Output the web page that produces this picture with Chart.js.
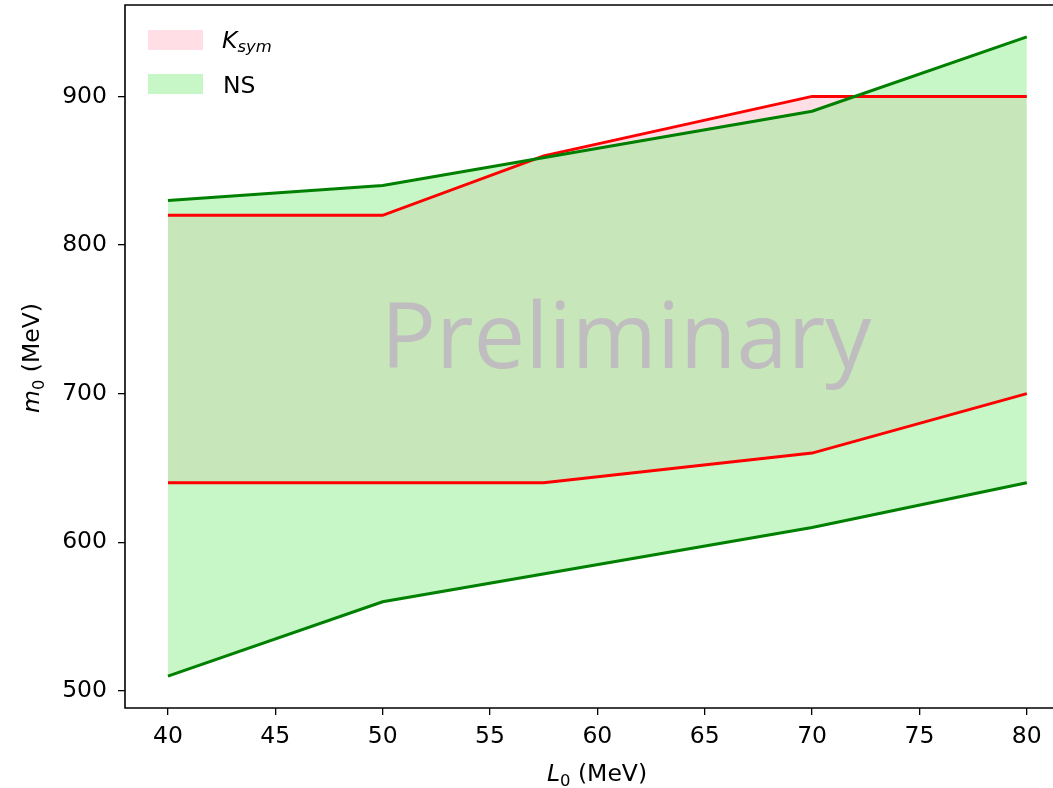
<!DOCTYPE html>
<html lang="en">
<head>
    <meta charset="UTF-8">
    <title>m0 vs L0 bands</title>
    <script src="https://cdn.jsdelivr.net/npm/chart.js"></script>
    <style>
        html, body { margin: 0; padding: 0; background: #ffffff; }
        #wrap { width: 1053px; height: 788px; }
    </style>
</head>
<body>
    <div id="wrap"><canvas id="bandChart" width="1053" height="788"></canvas></div>

    <script>
        // L0 values (MeV) for each band edge
        const ksymL = [40, 50, 57.5, 70, 80];
        const ksymUpper = [820, 820, 860, 900, 900];
        const ksymLower = [640, 640, 640, 660, 700];

        const nsL = [40, 50, 70, 80];
        const nsUpper = [830, 840, 890, 940];
        const nsLower = [510, 560, 610, 640];

        const xTicks = [40, 45, 50, 55, 60, 65, 70, 75, 80];
        const yTicks = [500, 600, 700, 800, 900];

        const FONT = 'DejaVu Sans';
        const FS = 23.5;
        const pink = 'rgba(255, 192, 203, 0.5)';
        const lightGreen = 'rgba(144, 238, 144, 0.5)';

        function pts(xs, ys) {
            return xs.map((x, i) => ({ x: x, y: ys[i] }));
        }

        // writes "base_sub rest" with italic base and a subscript, centred on x
        function mathLabel(ctx, x, y, base, sub, rest, size) {
            const subSize = size * 0.7;
            ctx.font = 'italic ' + size + 'px "' + FONT + '"';
            const w1 = ctx.measureText(base).width;
            ctx.font = subSize + 'px "' + FONT + '"';
            const w2 = ctx.measureText(sub).width;
            ctx.font = size + 'px "' + FONT + '"';
            const w3 = ctx.measureText(rest).width;
            let cx = x - (w1 + w2 + w3) / 2;
            ctx.textAlign = 'left';
            ctx.textBaseline = 'alphabetic';
            ctx.font = 'italic ' + size + 'px "' + FONT + '"';
            ctx.fillText(base, cx, y);
            cx += w1;
            ctx.font = subSize + 'px "' + FONT + '"';
            ctx.fillText(sub, cx, y + size * 0.2);
            cx += w2;
            ctx.font = size + 'px "' + FONT + '"';
            ctx.fillText(rest, cx, y);
        }

        const decorations = {
            id: 'decorations',
            beforeDatasetsDraw(chart) {
                const { ctx } = chart;
                // watermark sits under the fills and lines
                ctx.save();
                ctx.fillStyle = 'rgb(191, 189, 191)';
                ctx.font = '92px "Open Sans"';
                ctx.textAlign = 'center';
                ctx.textBaseline = 'alphabetic';
                ctx.fillText('Preliminary', 626, 368);
                ctx.restore();
            },
            afterDraw(chart) {
                const { ctx, chartArea } = chart;
                ctx.save();
                // spines: left, bottom, top (right one is off the image)
                ctx.strokeStyle = '#000000';
                ctx.lineWidth = 1.6;
                ctx.beginPath();
                ctx.moveTo(chartArea.right + 2, chartArea.top);
                ctx.lineTo(chartArea.left, chartArea.top);
                ctx.lineTo(chartArea.left, chartArea.bottom);
                ctx.lineTo(chartArea.right + 2, chartArea.bottom);
                ctx.stroke();

                // legend
                ctx.fillStyle = pink;
                ctx.fillRect(148, 30, 55, 20);
                ctx.fillStyle = lightGreen;
                ctx.fillRect(148, 74, 55, 20);
                ctx.fillStyle = '#000000';
                ctx.font = 'italic ' + FS + 'px "' + FONT + '"';
                ctx.textAlign = 'left';
                ctx.textBaseline = 'alphabetic';
                ctx.fillText('K', 222, 48);
                const kw = ctx.measureText('K').width;
                ctx.font = 'italic ' + (FS * 0.7) + 'px "' + FONT + '"';
                ctx.fillText('sym', 222 + kw, 52);
                ctx.font = FS + 'px "' + FONT + '"';
                ctx.fillText('NS', 223, 93);

                // axis titles
                mathLabel(ctx, 597, 781, 'L', '0', ' (MeV)', FS);
                ctx.translate(39, 358);
                ctx.rotate(-Math.PI / 2);
                mathLabel(ctx, 0, 0, 'm', '0', ' (MeV)', FS);
                ctx.restore();
            }
        };

        const lineBase = { showLine: true, pointRadius: 0, borderWidth: 3, tension: 0 };

        new Chart(document.getElementById('bandChart'), {
            type: 'scatter',
            data: {
                datasets: [
                    Object.assign({}, lineBase, {
                        label: 'Ksym upper', data: pts(ksymL, ksymUpper),
                        borderColor: 'red', backgroundColor: pink, fill: '+1', order: 4
                    }),
                    Object.assign({}, lineBase, {
                        label: 'Ksym lower', data: pts(ksymL, ksymLower),
                        borderColor: 'red', fill: false, order: 3
                    }),
                    Object.assign({}, lineBase, {
                        label: 'NS upper', data: pts(nsL, nsUpper),
                        borderColor: 'green', backgroundColor: lightGreen, fill: '+1', order: 2
                    }),
                    Object.assign({}, lineBase, {
                        label: 'NS lower', data: pts(nsL, nsLower),
                        borderColor: 'green', fill: false, order: 1
                    })
                ]
            },
            options: {
                responsive: false,
                animation: false,
                layout: { padding: { top: 5, right: 0, left: 0, bottom: 0 } },
                plugins: {
                    legend: { display: false },
                    tooltip: { enabled: false },
                    filler: { drawTime: 'beforeDatasetsDraw' }
                },
                scales: {
                    x: {
                        type: 'linear', min: 38, max: 81.22,
                        afterBuildTicks: s => { s.ticks = xTicks.map(v => ({ value: v })); },
                        afterFit: s => { s.height = 80; s.paddingLeft = 0; s.paddingRight = 0; },
                        grid: { display: true, drawOnChartArea: false, tickLength: 7, color: '#000', lineWidth: 1.3 },
                        border: { display: false },
                        ticks: { color: '#000', font: { family: FONT, size: FS }, padding: 8, maxRotation: 0, autoSkip: false }
                    },
                    y: {
                        type: 'linear', min: 488.5, max: 961.5,
                        afterBuildTicks: s => { s.ticks = yTicks.map(v => ({ value: v })); },
                        afterFit: s => { s.width = 125; s.paddingTop = 0; s.paddingBottom = 0; },
                        grid: { display: true, drawOnChartArea: false, tickLength: 7, color: '#000', lineWidth: 1.3 },
                        border: { display: false },
                        ticks: { color: '#000', font: { family: FONT, size: FS }, padding: 11, autoSkip: false }
                    }
                }
            },
            plugins: [decorations]
        });
    </script>
</body>
</html>
